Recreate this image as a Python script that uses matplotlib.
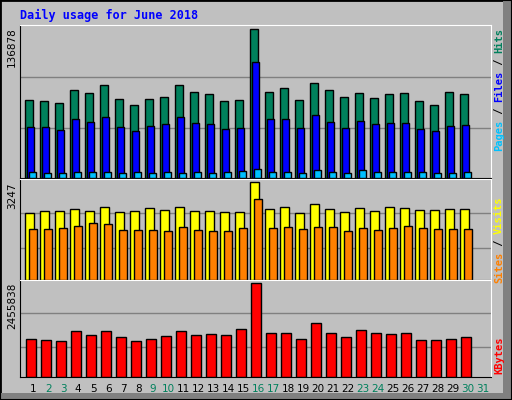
import matplotlib
matplotlib.use("Agg")
import matplotlib.pyplot as plt
from matplotlib.patches import Rectangle
import numpy as np

days = list(range(1, 31))
day_labels = [str(d) for d in range(1, 32)]
weekend = [2, 3, 9, 10, 16, 17, 23, 24, 30, 31]
hits = [71553,70620,68753,80886,78086,85553,72486,66887,72486,74353,85553,79019,77153,70620,71553,
        136878,79019,82753,71553,87419,80886,74353,78086,73420,77153,78086,70620,66887,79019,77153]
files = [47287,47287,44487,54754,51954,56620,47287,43554,48221,50087,56620,51020,50087,45421,46354,
         107018,54754,54754,46354,58487,51954,46354,52887,50087,51020,51020,45421,43554,48221,49154]
pages = [5289,4355,4355,5289,5289,5289,4355,5289,4355,5289,4355,5289,4355,5289,6222,
         8089,5289,5289,4355,7155,5289,4355,7155,5289,5289,5289,5289,4355,4355,5289]
visits = [2223,2294,2294,2365,2294,2435,2259,2294,2400,2329,2435,2294,2294,2259,2259,
          3247,2365,2435,2223,2541,2365,2259,2400,2294,2435,2400,2329,2329,2365,2365]
sites = [1694,1694,1729,1800,1906,1870,1659,1659,1659,1623,1765,1659,1623,1623,1729,
         2682,1729,1765,1694,1765,1765,1623,1729,1659,1729,1800,1729,1694,1694,1694]
kbytes = [1003856,976967,950078,1192079,1084523,1192079,1030745,950078,1003856,1057634,1192079,1084523,
          1111412,1084523,1245857,2455838,1138301,1138301,1003856,1407191,1138301,1030745,1218968,
          1138301,1111412,1138301,976967,976967,1003856,1030745]

W, H = 512, 400
fig = plt.figure(figsize=(5.12, 4.0), dpi=100)
fig.patch.set_facecolor("#C0C0C0")
# outer border / bevel
fig.add_artist(Rectangle((0, 0), 1, 1, transform=fig.transFigure, fill=False, edgecolor="black", lw=2))
fig.add_artist(Rectangle((503/W, 0), 9/W, 1, transform=fig.transFigure, color="#808080", lw=0))
fig.add_artist(Rectangle((0, 0), 1, 7/H, transform=fig.transFigure, color="#808080", lw=0))
fig.add_artist(Rectangle((0, 0), 1, 1, transform=fig.transFigure, fill=False, edgecolor="black", lw=1.5))

def ax_at(x0, y0, x1, y1):
    a = fig.add_axes([x0/W, 1 - y1/H, (x1-x0)/W, (y1-y0)/H])
    a.set_facecolor("#C0C0C0")
    a.set_xlim(0.647, 32.05)
    a.set_xticks([]); a.set_yticks([])
    for s in a.spines.values():
        s.set_color("black")
    a.spines["top"].set_color("white"); a.spines["right"].set_color("white")
    return a

mono = "DejaVu Sans Mono"
x = np.array(days)
ek = dict(edgecolor="black", linewidth=1.0, align="edge", zorder=3)

ax1 = ax_at(20, 25, 491, 178)
top = max(hits) * 1.03
ax1.set_ylim(0, top)
for f in (0.335, 0.68):
    ax1.axhline(max(hits)*f, color="#808080", lw=1, zorder=1)
ax1.bar(x, hits, width=0.49, color="#00805C", **ek)
ax1.bar(x + 0.09, files, width=0.50, color="#0000FF", **ek)
ax1.bar(x + 0.27, pages, width=0.47, color="#00C0FF", **ek)

ax2 = ax_at(20, 179, 491, 280)
ax2.set_ylim(0, max(visits) * 1.035)
for f in (0.326, 0.685):
    ax2.axhline(max(visits)*f, color="#808080", lw=1, zorder=1)
ax2.bar(x, visits, width=0.56, color="#FFFF00", **ek)
ax2.bar(x + 0.22, sites, width=0.53, color="#FF8000", **ek)

ax3 = ax_at(20, 280, 491, 377)
ax3.set_ylim(0, max(kbytes) * 1.03)
for f in (0.315, 0.68):
    ax3.axhline(max(kbytes)*f, color="#808080", lw=1, zorder=1)
ax3.bar(x + 0.07, kbytes, width=0.67, color="#FF0000", **ek)

# x labels
for i, lab in enumerate(day_labels):
    d = i + 1
    col = "#00805C" if d in weekend else "black"
    px = 25.3 + 15 * (d - 1) + 7.8
    fig.text(px / W, 1 - 389 / H, lab, color=col, fontsize=7.5, ha="center", va="center")

# left max labels
fig.text(12/W, 1 - 27/H, str(max(hits)), rotation=90, ha="center", va="top", fontsize=7.5)
fig.text(12/W, 1 - 182/H, str(max(visits)), rotation=90, ha="center", va="top", fontsize=7.5)
fig.text(12/W, 1 - 283/H, str(max(kbytes)), rotation=90, ha="center", va="top", fontsize=7.5)

fig.text(20/W, 1 - 15/H, "Daily usage for June 2018", color="#0000FF", fontsize=8.5,
         family=mono, fontweight="bold", ha="left", va="center")

def rlabel(parts, ytop):
    y = ytop
    for txt, col in parts:
        t = fig.text(499/W, 1 - y/H, txt, rotation=90, color=col, fontsize=7.5,
                     family=mono, fontweight="bold", ha="center", va="top")
        y += 6.1 * len(txt)

rlabel([("Hits", "#00805C"), (" / ", "black"), ("Files", "#0000FF"), (" / ", "black"), ("Pages", "#00C0FF")][::-1][::-1], 28)
rlabel([("Visits", "#FFFF00"), (" / ", "black"), ("Sites", "#FF8000")], 197)
rlabel([("KBytes", "#FF0000")], 336)

fig.savefig("out.png", dpi=100, facecolor=fig.get_facecolor())
